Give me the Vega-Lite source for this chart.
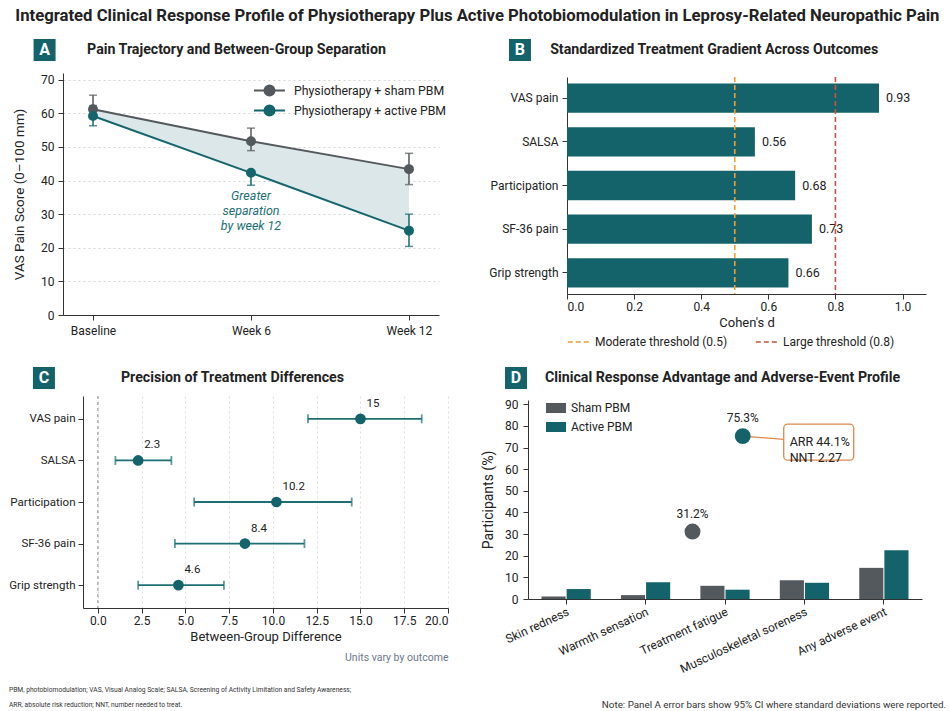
{
  "$schema": "https://vega.github.io/schema/vega-lite/v6.json",
  "background": "white",
  "padding": {"left": 8, "top": 8, "right": 4, "bottom": 0},
  "title": {"text": "Integrated Clinical Response Profile of Physiotherapy Plus Active Photobiomodulation in Leprosy-Related Neuropathic Pain", "fontSize": 16.7, "fontWeight": "bold", "color": "#222222", "anchor": "middle", "offset": 14},
  "config": {
    "font": "Roboto",
    "view": {"stroke": null},
    "axis": {"domainColor": "#333333", "tickColor": "#333333", "labelColor": "#222222", "titleColor": "#222222", "titleFontWeight": "normal", "labelFontSize": 12, "titleFontSize": 13, "grid": false},
    "legend": {"labelColor": "#222222"}
  },
  "datasets": {
    "painA": [
      {"time": "Baseline", "group": "Physiotherapy + sham PBM", "mean": 61.2, "lo": 59.6, "hi": 65.4},
      {"time": "Week 6", "group": "Physiotherapy + sham PBM", "mean": 51.7, "lo": 48.9, "hi": 55.6},
      {"time": "Week 12", "group": "Physiotherapy + sham PBM", "mean": 43.4, "lo": 38.8, "hi": 48.1},
      {"time": "Baseline", "group": "Physiotherapy + active PBM", "mean": 59.2, "lo": 56.3, "hi": 62.3},
      {"time": "Week 6", "group": "Physiotherapy + active PBM", "mean": 42.3, "lo": 38.6, "hi": 42.3},
      {"time": "Week 12", "group": "Physiotherapy + active PBM", "mean": 25.1, "lo": 20.4, "hi": 30.0}
    ],
    "cohen": [
      {"outcome": "VAS pain", "d": 0.93},
      {"outcome": "SALSA", "d": 0.56},
      {"outcome": "Participation", "d": 0.68},
      {"outcome": "SF-36 pain", "d": 0.73},
      {"outcome": "Grip strength", "d": 0.66}
    ],
    "thresholds": [
      {"threshold": "Moderate threshold (0.5)", "value": 0.5},
      {"threshold": "Large threshold (0.8)", "value": 0.8}
    ],
    "diff": [
      {"outcome": "VAS pain", "est": 15, "lo": 12.0, "hi": 18.5},
      {"outcome": "SALSA", "est": 2.3, "lo": 1.0, "hi": 4.2},
      {"outcome": "Participation", "est": 10.2, "lo": 5.5, "hi": 14.5},
      {"outcome": "SF-36 pain", "est": 8.4, "lo": 4.4, "hi": 11.8},
      {"outcome": "Grip strength", "est": 4.6, "lo": 2.3, "hi": 7.2}
    ],
    "ae": [
      {"event": "Skin redness", "arm": "Sham PBM", "pct": 1.1},
      {"event": "Skin redness", "arm": "Active PBM", "pct": 4.6},
      {"event": "Warmth sensation", "arm": "Sham PBM", "pct": 1.8},
      {"event": "Warmth sensation", "arm": "Active PBM", "pct": 7.7},
      {"event": "Treatment fatigue", "arm": "Sham PBM", "pct": 6.1},
      {"event": "Treatment fatigue", "arm": "Active PBM", "pct": 4.3},
      {"event": "Musculoskeletal soreness", "arm": "Sham PBM", "pct": 8.7},
      {"event": "Musculoskeletal soreness", "arm": "Active PBM", "pct": 7.5},
      {"event": "Any adverse event", "arm": "Sham PBM", "pct": 14.4},
      {"event": "Any adverse event", "arm": "Active PBM", "pct": 22.5}
    ],
    "response": [
      {"arm": "Sham PBM", "pct": 31.2},
      {"arm": "Active PBM", "pct": 75.3}
    ],
    "callout": [{"note": "ARR 44.1%\nNNT 2.27", "arr": 44.1, "nnt": 2.27}]
  },
  "resolve": {"scale": {"x": "independent", "y": "independent", "color": "independent", "fill": "independent", "stroke": "independent", "strokeDash": "independent", "xOffset": "independent"}, "legend": {"color": "independent", "fill": "independent", "stroke": "independent"}},
  "align": "none",
  "spacing": 4,
  "vconcat": [
    {
      "align": "none",
      "spacing": 13,
      "resolve": {"scale": {"x": "independent", "y": "independent", "color": "independent", "fill": "independent", "stroke": "independent", "xOffset": "independent"}, "legend": {"color": "independent", "fill": "independent", "stroke": "independent"}},
      "vconcat": [
        {
          "align": "none",
          "spacing": 41,
          "resolve": {"scale": {"x": "independent", "y": "independent", "color": "independent", "fill": "independent", "stroke": "independent"}, "legend": {"color": "independent", "fill": "independent", "stroke": "independent"}},
          "hconcat": [
            {
              "spacing": 12,
              "vconcat": [
                {
                  "width": 376, "height": 22,
                  "data": {"values": [{"badge": "A", "label": "Pain Trajectory and Between-Group Separation"}]},
                  "encoding": {"y": {"datum": 0.5, "type": "quantitative", "scale": {"domain": [0, 1]}, "axis": null}},
                  "layer": [
                    {"mark": {"type": "square", "size": 484, "color": "#14636a", "opacity": 1}, "encoding": {"x": {"datum": -4.9, "type": "quantitative", "scale": {"domain": [0, 100]}, "axis": null}}},
                    {"mark": {"type": "text", "color": "white", "fontWeight": "bold", "fontSize": 16}, "encoding": {"x": {"datum": -4.9, "type": "quantitative"}, "text": {"field": "badge"}}},
                    {"mark": {"type": "text", "align": "left", "fontWeight": "bold", "fontSize": 14.2, "color": "#222222"}, "encoding": {"x": {"datum": 6.4, "type": "quantitative"}, "text": {"field": "label"}}}
                  ]
                },
                {
                  "width": 376, "height": 242,
                  "data": {"name": "painA"},
                  "encoding": {
                    "x": {"field": "time", "type": "ordinal", "sort": ["Baseline", "Week 6", "Week 12"], "scale": {"type": "point", "padding": 0.19}, "axis": {"title": null, "labelAngle": 0, "labelFontSize": 12, "labelPadding": 5}},
                    "y": {"field": "mean", "type": "quantitative", "scale": {"domain": [0, 72], "nice": false}, "axis": {"values": [0, 10, 20, 30, 40, 50, 60, 70], "title": "VAS Pain Score (0–100 mm)", "titleFontSize": 13.5, "titlePadding": 14, "labelPadding": 4, "grid": true, "gridDash": [2, 3], "gridColor": "#d6d6d6"}}
                  },
                  "layer": [
                    {"transform": [{"pivot": "group", "value": "mean", "groupby": ["time"]}], "mark": {"type": "area", "color": "#dbe7e9", "opacity": 1}, "encoding": {"y": {"field": "Physiotherapy + active PBM", "type": "quantitative", "title": "VAS Pain Score (0–100 mm)"}, "y2": {"field": "Physiotherapy + sham PBM"}}},
                    {"mark": {"type": "line", "strokeWidth": 2}, "encoding": {"stroke": {"field": "group", "type": "nominal", "scale": {"domain": ["Physiotherapy + sham PBM", "Physiotherapy + active PBM"], "range": ["#54595d", "#15666c"]}, "legend": {"title": null, "orient": "none", "legendX": 197, "legendY": 42, "symbolType": "M-1.82,0H1.82M0.59,0A0.59,0.59,0,1,1,-0.59,0A0.59,0.59,0,1,1,0.59,0Z", "symbolSize": 289, "symbolStrokeWidth": 2, "labelFontSize": 12.3, "labelOffset": 15, "rowPadding": 1}}}},
                    {"mark": {"type": "rule", "strokeWidth": 1.5}, "encoding": {"y": {"field": "lo", "type": "quantitative"}, "y2": {"field": "hi"}, "stroke": {"field": "group", "type": "nominal"}}},
                    {"mark": {"type": "tick", "size": 8, "thickness": 1.5}, "encoding": {"y": {"field": "lo", "type": "quantitative"}, "fill": {"field": "group", "type": "nominal", "scale": {"domain": ["Physiotherapy + sham PBM", "Physiotherapy + active PBM"], "range": ["#54595d", "#15666c"]}, "legend": {"title": null, "orient": "none", "legendX": 197, "legendY": 42, "symbolType": "M-1.82,0H1.82M0.59,0A0.59,0.59,0,1,1,-0.59,0A0.59,0.59,0,1,1,0.59,0Z", "symbolSize": 289, "symbolStrokeWidth": 2, "labelFontSize": 12.3, "labelOffset": 15, "rowPadding": 1}}}},
                    {"mark": {"type": "tick", "size": 8, "thickness": 1.5}, "encoding": {"y": {"field": "hi", "type": "quantitative"}, "fill": {"field": "group", "type": "nominal"}}},
                    {"mark": {"type": "point", "filled": true, "size": 64, "opacity": 1}, "encoding": {"fill": {"field": "group", "type": "nominal"}, "stroke": {"field": "group", "type": "nominal"}}},
                    {"transform": [{"filter": "datum.time === 'Week 6' && datum.group === 'Physiotherapy + active PBM'"}], "mark": {"type": "text", "text": ["Greater", "separation", "by week 12"], "fontStyle": "italic", "fontSize": 12.5, "color": "#1b6f75", "lineHeight": 15, "baseline": "middle"}, "encoding": {"y": {"datum": 35.4, "type": "quantitative"}}}
                  ]
                }
              ]
            },
            {
              "spacing": 15,
              "vconcat": [
                {
                  "width": 359, "height": 22,
                  "data": {"values": [{"badge": "B", "label": "Standardized Treatment Gradient Across Outcomes"}]},
                  "encoding": {"y": {"datum": 0.5, "type": "quantitative", "scale": {"domain": [0, 1]}, "axis": null}},
                  "layer": [
                    {"mark": {"type": "square", "size": 484, "color": "#14636a", "opacity": 1}, "encoding": {"x": {"datum": -13.1, "type": "quantitative", "scale": {"domain": [0, 100]}, "axis": null}}},
                    {"mark": {"type": "text", "color": "white", "fontWeight": "bold", "fontSize": 16}, "encoding": {"x": {"datum": -13.1, "type": "quantitative"}, "text": {"field": "badge"}}},
                    {"mark": {"type": "text", "align": "left", "fontWeight": "bold", "fontSize": 14.2, "color": "#222222"}, "encoding": {"x": {"datum": -4.7, "type": "quantitative"}, "text": {"field": "label"}}}
                  ]
                },
                {
                  "width": 359, "height": 217,
                  "layer": [
                    {"data": {"name": "cohen"}, "mark": {"type": "bar", "color": "#14636a"}, "encoding": {
                      "y": {"field": "outcome", "type": "nominal", "sort": ["VAS pain", "SALSA", "Participation", "SF-36 pain", "Grip strength"], "scale": {"paddingInner": 0.33, "paddingOuter": 0.15}, "axis": {"title": null, "labelFontSize": 12, "labelPadding": 4}},
                      "x": {"field": "d", "type": "quantitative", "scale": {"domain": [0, 1.07], "nice": false}, "axis": {"values": [0, 0.2, 0.4, 0.6, 0.8, 1.0], "format": ".1f", "title": "Cohen's d", "titlePadding": 4}}}},
                    {"data": {"name": "cohen"}, "mark": {"type": "text", "align": "left", "dx": 7, "fontSize": 12.5, "color": "#222222"}, "encoding": {
                      "y": {"field": "outcome", "type": "nominal", "sort": ["VAS pain", "SALSA", "Participation", "SF-36 pain", "Grip strength"]},
                      "x": {"field": "d", "type": "quantitative"},
                      "text": {"field": "d", "type": "quantitative", "format": ".2f"}}},
                    {"data": {"name": "thresholds"}, "mark": {"type": "rule", "strokeDash": [5, 3], "strokeWidth": 1.6}, "encoding": {
                      "x": {"field": "value", "type": "quantitative"},
                      "color": {"field": "threshold", "type": "nominal", "scale": {"domain": ["Moderate threshold (0.5)", "Large threshold (0.8)"], "range": ["#f39b34", "#c6553d"]}, "legend": {"title": null, "orient": "bottom", "direction": "horizontal", "symbolType": "stroke", "symbolDash": [5, 3], "symbolStrokeWidth": 1.6, "symbolSize": 500, "labelFontSize": 12, "columnPadding": 24, "offset": 1}}}}
                  ]
                }
              ]
            }
          ]
        },
        {
          "align": "none",
          "spacing": -56,
          "resolve": {"scale": {"x": "independent", "y": "independent", "color": "independent", "xOffset": "independent"}, "legend": {"color": "independent"}},
          "hconcat": [
            {
              "width": 1, "height": 1,
              "data": {"values": [{"blank": ""}]},
              "mark": {"type": "text"},
              "encoding": {"text": {"field": "blank", "type": "nominal"}}
            },
            {
              "align": "none",
              "spacing": 32,
              "resolve": {"scale": {"x": "independent", "y": "independent", "color": "independent", "xOffset": "independent"}, "legend": {"color": "independent"}},
              "hconcat": [
                {
                  "spacing": 6,
                  "vconcat": [
                    {
                      "width": 365, "height": 22,
                      "data": {"values": [{"badge": "C", "label": "Precision of Treatment Differences"}]},
                      "encoding": {"y": {"datum": 0.5, "type": "quantitative", "scale": {"domain": [0, 1]}, "axis": null}},
                      "layer": [
                        {"mark": {"type": "square", "size": 484, "color": "#14636a", "opacity": 1}, "encoding": {"x": {"datum": -10.7, "type": "quantitative", "scale": {"domain": [0, 100]}, "axis": null}}},
                        {"mark": {"type": "text", "color": "white", "fontWeight": "bold", "fontSize": 16}, "encoding": {"x": {"datum": -10.7, "type": "quantitative"}, "text": {"field": "badge"}}},
                        {"mark": {"type": "text", "align": "left", "fontWeight": "bold", "fontSize": 14.2, "color": "#222222"}, "encoding": {"x": {"datum": 10.4, "type": "quantitative"}, "text": {"field": "label"}}}
                      ]
                    },
                    {
                      "width": 365, "height": 212,
                      "title": {"text": "Units vary by outcome", "orient": "bottom", "anchor": "end", "fontSize": 10.5, "fontWeight": "normal", "color": "#6c7889", "offset": 10},
                      "data": {"name": "diff"},
                      "layer": [
                        {"data": {"values": [{"ref": 0}]}, "mark": {"type": "rule", "strokeDash": [3, 3], "color": "#8a8a8a", "strokeWidth": 1}, "encoding": {"x": {"field": "ref", "type": "quantitative", "scale": {"domain": [-0.85, 20], "nice": false, "zero": false}, "axis": {"values": [0, 2.5, 5, 7.5, 10, 12.5, 15, 17.5, 20], "format": ".1f", "title": "Between-Group Difference", "grid": true, "gridDash": [2, 3], "gridColor": "#dedede", "titlePadding": 4}}}},
                        {"mark": {"type": "rule", "color": "#1d6f75", "strokeWidth": 1.8}, "encoding": {
                          "y": {"field": "outcome", "type": "nominal", "sort": ["VAS pain", "SALSA", "Participation", "SF-36 pain", "Grip strength"], "scale": {"type": "point", "padding": 0.55}, "axis": {"title": null, "labelFontSize": 11.5, "labelPadding": 3}},
                          "x": {"field": "lo", "type": "quantitative", "title": "Between-Group Difference"}, "x2": {"field": "hi"}}},
                        {"mark": {"type": "tick", "color": "#1d6f75", "thickness": 1.8, "size": 9}, "encoding": {"y": {"field": "outcome", "type": "nominal", "sort": ["VAS pain", "SALSA", "Participation", "SF-36 pain", "Grip strength"]}, "x": {"field": "lo", "type": "quantitative", "title": "Between-Group Difference"}}},
                        {"mark": {"type": "tick", "color": "#1d6f75", "thickness": 1.8, "size": 9}, "encoding": {"y": {"field": "outcome", "type": "nominal", "sort": ["VAS pain", "SALSA", "Participation", "SF-36 pain", "Grip strength"]}, "x": {"field": "hi", "type": "quantitative", "title": "Between-Group Difference"}}},
                        {"mark": {"type": "circle", "size": 115, "color": "#14636a", "opacity": 1}, "encoding": {"y": {"field": "outcome", "type": "nominal", "sort": ["VAS pain", "SALSA", "Participation", "SF-36 pain", "Grip strength"]}, "x": {"field": "est", "type": "quantitative", "title": "Between-Group Difference"}}},
                        {"mark": {"type": "text", "align": "left", "dx": 6, "dy": -15, "fontSize": 11.5, "color": "#222222"}, "encoding": {"y": {"field": "outcome", "type": "nominal", "sort": ["VAS pain", "SALSA", "Participation", "SF-36 pain", "Grip strength"]}, "x": {"field": "est", "type": "quantitative", "title": "Between-Group Difference"}, "text": {"field": "est", "type": "quantitative"}}}
                      ]
                    }
                  ]
                },
                {
                  "spacing": 9,
                  "vconcat": [
                    {
                      "width": 394, "height": 22,
                      "data": {"values": [{"badge": "D", "label": "Clinical Response Advantage and Adverse-Event Profile"}]},
                      "encoding": {"y": {"datum": 0.5, "type": "quantitative", "scale": {"domain": [0, 1]}, "axis": null}},
                      "layer": [
                        {"mark": {"type": "square", "size": 484, "color": "#14636a", "opacity": 1}, "encoding": {"x": {"datum": -3.05, "type": "quantitative", "scale": {"domain": [0, 100]}, "axis": null}}},
                        {"mark": {"type": "text", "color": "white", "fontWeight": "bold", "fontSize": 16}, "encoding": {"x": {"datum": -3.05, "type": "quantitative"}, "text": {"field": "badge"}}},
                        {"mark": {"type": "text", "align": "left", "fontWeight": "bold", "fontSize": 14.2, "color": "#222222"}, "encoding": {"x": {"datum": 4.3, "type": "quantitative"}, "text": {"field": "label"}}}
                      ]
                    },
                    {
                      "width": 394, "height": 199,
                      "layer": [
                        {"data": {"name": "ae"}, "mark": {"type": "bar"}, "encoding": {
                          "x": {"field": "event", "type": "nominal", "sort": ["Skin redness", "Warmth sensation", "Treatment fatigue", "Musculoskeletal soreness", "Any adverse event"], "scale": {"paddingInner": 0.38, "paddingOuter": 0.17}, "axis": {"title": null, "labelAngle": -25, "labelFontSize": 12, "labelPadding": 2}},
                          "xOffset": {"field": "arm", "type": "nominal", "sort": ["Sham PBM", "Active PBM"], "scale": {"paddingInner": 0.04}},
                          "y": {"field": "pct", "type": "quantitative", "scale": {"domain": [0, 92], "nice": false}, "axis": {"values": [0, 10, 20, 30, 40, 50, 60, 70, 80, 90], "title": "Participants (%)", "titleFontSize": 14, "titlePadding": 9, "labelPadding": 5}},
                          "color": {"field": "arm", "type": "nominal", "scale": {"domain": ["Sham PBM", "Active PBM"], "range": ["#54595d", "#14636a"]}, "legend": {"title": null, "orient": "none", "legendX": 17, "legendY": 30, "symbolType": "M-1,-0.5H1V0.5H-1Z", "symbolSize": 400, "labelFontSize": 12, "rowPadding": 2}}}},
                        {"data": {"name": "callout"}, "mark": {"type": "rule", "color": "#e0874c", "strokeWidth": 1.3}, "encoding": {
                          "x": {"datum": "Treatment fatigue", "bandPosition": 0.86}, "y": {"datum": 75.3, "type": "quantitative", "axis": {"values": [0, 10, 20, 30, 40, 50, 60, 70, 80, 90], "title": "Participants (%)", "titleFontSize": 14, "titlePadding": 9, "labelPadding": 5}},
                          "x2": {"datum": "Musculoskeletal soreness", "bandPosition": 0.79}, "y2": {"datum": 72.5}}},
                        {"data": {"name": "callout"}, "mark": {"type": "point", "shape": "M-0.886,-0.514H0.886A0.114,0.114,0,0,1,1,-0.4V0.4A0.114,0.114,0,0,1,0.886,0.514H-0.886A0.114,0.114,0,0,1,-1,0.4V-0.4A0.114,0.114,0,0,1,-0.886,-0.514Z", "size": 4900, "filled": true, "fill": "white", "stroke": "#e0874c", "strokeWidth": 1.3, "opacity": 1}, "encoding": {
                          "x": {"datum": "Musculoskeletal soreness", "bandPosition": 0.79}, "y": {"datum": 72.5, "type": "quantitative", "axis": {"values": [0, 10, 20, 30, 40, 50, 60, 70, 80, 90], "title": "Participants (%)", "titleFontSize": 14, "titlePadding": 9, "labelPadding": 5}}}},
                        {"data": {"name": "callout"}, "mark": {"type": "text", "align": "left", "baseline": "middle", "fontSize": 12.5, "lineBreak": "\n", "lineHeight": 16, "color": "#222222"}, "encoding": {
                          "x": {"datum": "Musculoskeletal soreness", "bandPosition": 0.2}, "y": {"datum": 72.5, "type": "quantitative", "axis": {"values": [0, 10, 20, 30, 40, 50, 60, 70, 80, 90], "title": "Participants (%)", "titleFontSize": 14, "titlePadding": 9, "labelPadding": 5}}, "text": {"field": "note"}}},
                        {"data": {"name": "response"}, "transform": [{"filter": "datum.arm === 'Sham PBM'"}], "mark": {"type": "circle", "size": 254, "opacity": 1, "color": "#54595d"}, "encoding": {
                          "x": {"datum": "Treatment fatigue", "bandPosition": -0.16},
                          "y": {"field": "pct", "type": "quantitative", "axis": {"values": [0, 10, 20, 30, 40, 50, 60, 70, 80, 90], "title": "Participants (%)", "titleFontSize": 14, "titlePadding": 9, "labelPadding": 5}}}},
                        {"data": {"name": "response"}, "transform": [{"filter": "datum.arm === 'Active PBM'"}], "mark": {"type": "circle", "size": 254, "opacity": 1, "color": "#14636a"}, "encoding": {
                          "x": {"datum": "Treatment fatigue", "bandPosition": 0.86},
                          "y": {"field": "pct", "type": "quantitative", "axis": {"values": [0, 10, 20, 30, 40, 50, 60, 70, 80, 90], "title": "Participants (%)", "titleFontSize": 14, "titlePadding": 9, "labelPadding": 5}}}},
                        {"data": {"name": "response"}, "transform": [{"filter": "datum.arm === 'Sham PBM'"}, {"calculate": "format(datum.pct, '.1f') + '%'", "as": "lab"}], "mark": {"type": "text", "dy": -18, "fontSize": 12, "color": "#222222"}, "encoding": {
                          "x": {"datum": "Treatment fatigue", "bandPosition": -0.16},
                          "y": {"field": "pct", "type": "quantitative", "axis": {"values": [0, 10, 20, 30, 40, 50, 60, 70, 80, 90], "title": "Participants (%)", "titleFontSize": 14, "titlePadding": 9, "labelPadding": 5}},
                          "text": {"field": "lab"}}},
                        {"data": {"name": "response"}, "transform": [{"filter": "datum.arm === 'Active PBM'"}, {"calculate": "format(datum.pct, '.1f') + '%'", "as": "lab"}], "mark": {"type": "text", "dy": -18, "fontSize": 12, "color": "#222222"}, "encoding": {
                          "x": {"datum": "Treatment fatigue", "bandPosition": 0.86},
                          "y": {"field": "pct", "type": "quantitative", "axis": {"values": [0, 10, 20, 30, 40, 50, 60, 70, 80, 90], "title": "Participants (%)", "titleFontSize": 14, "titlePadding": 9, "labelPadding": 5}},
                          "text": {"field": "lab"}}}
                      ]
                    }
                  ]
                }
              ]
            }
          ]
        }
      ]
    },
    {
      "width": 883, "height": 30,
      "data": {"values": [{"left": "PBM, photobiomodulation; VAS, Visual Analog Scale; SALSA, Screening of Activity Limitation and Safety Awareness;\nARR, absolute risk reduction; NNT, number needed to treat.", "right": "Note: Panel A error bars show 95% CI where standard deviations were reported."}]},
      "layer": [
        {"mark": {"type": "text", "align": "left", "baseline": "middle", "fontSize": 6.7, "lineBreak": "\n", "lineHeight": 15, "color": "#333333"}, "encoding": {"x": {"datum": -6.12, "type": "quantitative", "scale": {"domain": [0, 100]}, "axis": null}, "y": {"datum": 0.633, "type": "quantitative", "scale": {"domain": [0, 1]}, "axis": null}, "text": {"field": "left"}}},
        {"mark": {"type": "text", "align": "right", "baseline": "middle", "fontSize": 9.8, "color": "#333333"}, "encoding": {"x": {"datum": 100, "type": "quantitative"}, "y": {"datum": 0.133, "type": "quantitative"}, "text": {"field": "right"}}}
      ]
    }
  ]
}
